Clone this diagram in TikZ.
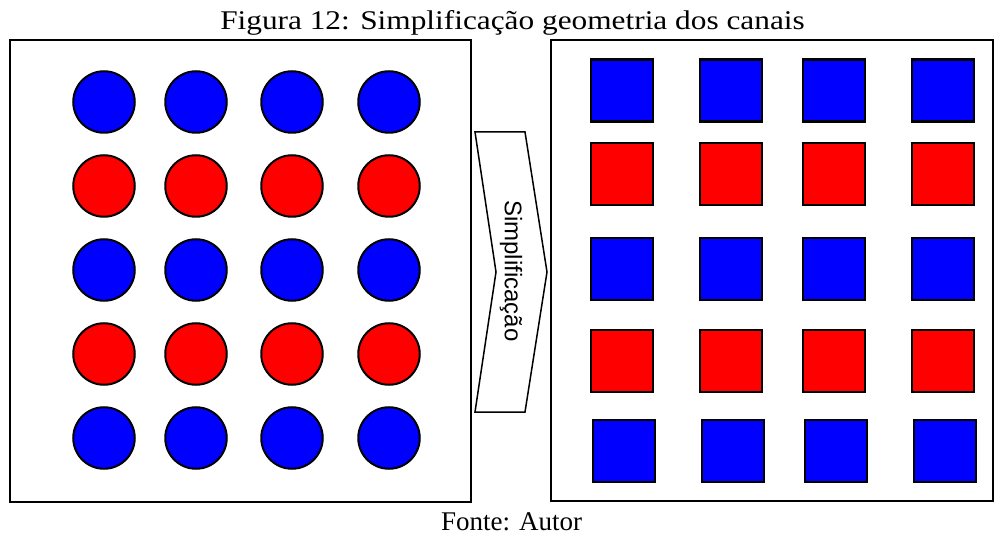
\documentclass[tikz,border=0pt]{standalone}
\usepackage{fontspec}
\setmainfont{Liberation Serif}
\newfontfamily\titlefont[FakeStretch=1.16]{Liberation Serif}
\newfontfamily\arrowfont{Liberation Sans}
\usetikzlibrary{positioning}
\usepackage{xcolor}
\definecolor{cBlue}{HTML}{0000FF}
\definecolor{cRed}{HTML}{FF0000}
\tikzset{
  panel/.style={
    draw=black, line width=2.5pt, inner sep=0pt,
  },
  chanround/.style={
    circle, draw=black, fill=#1, line width=2pt,
    minimum size=61.5pt, inner sep=0pt,
  },
  chansquare/.style={
    rectangle, draw=black, fill=#1, line width=2.2pt,
    minimum size=62pt, inner sep=0pt,
  },
  chevron/.style={draw=black, fill=white, line width=1.5pt, line join=miter},
  captext/.style={font=\fontsize{27}{30}\selectfont, inner sep=0pt},
}

\begin{document}
\begin{tikzpicture}[x=1pt, y=-1pt]
  \useasboundingbox (0,0) rectangle (1001,534);

  % Caption on top
  \node[captext, font=\titlefont\fontsize{27}{30}\selectfont, anchor=base] (title)
    at (512.5,30) {Figura 12: Simplificação geometria dos canais};

  % Panels -- original and simplified geometry
  \node[panel, minimum width=461pt, minimum height=462pt] (before) at (240.5,271) {};
  \node[panel, minimum width=442pt, minimum height=461pt] (after) at (772,270.5) {};

  % Round channels
  \foreach \y/\col [count=\r] in {102/cBlue,186/cRed,270/cBlue,354/cRed,438/cBlue}
    \foreach \x [count=\c] in {104,196,292,389}
      \node[chanround=\col] (c\r\c) at (\x,\y) {};

  % Square channels
  \foreach \y/\col/\dx [count=\r] in {90.5/cBlue/0,174/cRed/0,269/cBlue/0,361/cRed/0,451/cBlue/2}
    \foreach \x [count=\c] in {622,731,834,943}
      \node[chansquare=\col] (s\r\c) at (\x+\dx,\y) {};

  % Simplification arrow
  \draw[chevron] (475,132) -- (525,132) -- (547,272) -- (525,412)
    -- (475,412) -- (496,272) -- cycle;
  \node[font=\arrowfont\fontsize{24}{28}\selectfont, rotate=-90] (simp)
    at (511,271) {Simplificação};

  % Source line
  \node[captext, anchor=base] (source) at (511.5,530) {Fonte: Autor};

\end{tikzpicture}
\end{document}
